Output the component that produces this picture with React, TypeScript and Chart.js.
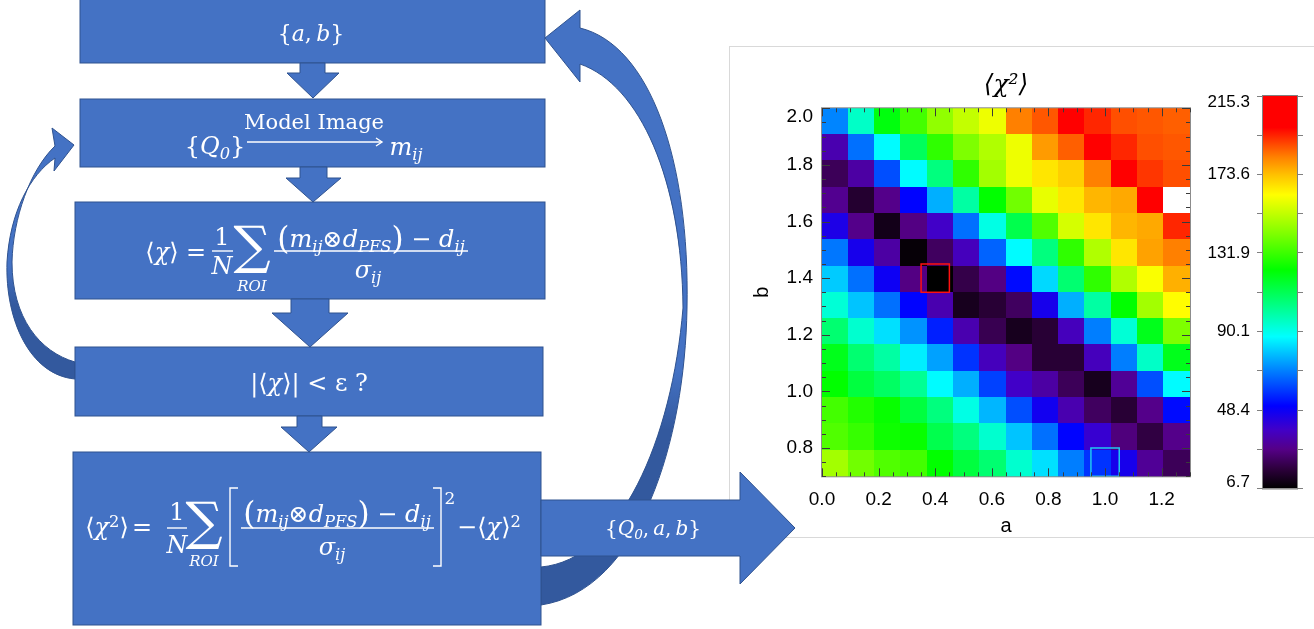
import React, { useEffect, useRef } from 'react';
import { Chart, registerables } from 'chart.js';

Chart.register(...registerables);

// ---------------- DATA ----------------
const A_PARAMS = [0.0, 0.1, 0.2, 0.3, 0.4, 0.5, 0.6, 0.7, 0.8, 0.9, 1.0, 1.1, 1.2, 1.3];
const B_PARAMS = [2.0, 1.9, 1.8, 1.7, 1.6, 1.5, 1.4, 1.3, 1.2, 1.1, 1.0, 0.9, 0.8, 0.7];

const CHI_B20 = [70, 95, 121, 133, 145, 153, 160, 183, 188, 205, 194, 189, 188, 187];
const CHI_B19 = [34, 67, 87, 110, 130, 142, 150, 160, 179, 187, 205, 194, 189, 188];
const CHI_B18 = [21, 32, 62, 87, 105, 130, 148, 160, 167, 171, 183, 205, 192, 189];
const CHI_B17 = [29, 15, 28, 51, 76, 100, 123, 140, 159, 167, 175, 177, 205, 215.3];
const CHI_B16 = [45, 28, 11, 27, 38, 67, 91, 112, 135, 156, 167, 175, 177, 194];
const CHI_B15 = [68, 46, 32, 8, 22, 36, 65, 87, 105, 130, 150, 167, 178, 183];
const CHI_B14 = [80, 67, 48, 27, 6.7, 19, 27, 52, 82, 107, 130, 150, 162, 176];
const CHI_B13 = [93, 79, 67, 51, 34, 12, 16, 22, 46, 76, 100, 123, 148, 163];
const CHI_B12 = [107, 94, 83, 72, 55, 34, 20, 12, 16, 36, 69, 93, 119, 142];
const CHI_B11 = [119, 107, 100, 85, 74, 58, 36, 27, 16, 16, 36, 69, 95, 119];
const CHI_B10 = [123, 114, 109, 102, 87, 76, 60, 38, 32, 21, 12, 30, 62, 87];
const CHI_B09 = [133, 128, 124, 114, 105, 91, 77, 62, 47, 34, 22, 16, 28, 52];
const CHI_B08 = [135, 131, 125, 124, 112, 105, 94, 79, 67, 51, 40, 26, 18, 28];
const CHI_B07 = [148, 140, 135, 133, 123, 114, 107, 94, 83, 69, 58, 46, 30, 21];
const CHI_ROWS = [CHI_B20, CHI_B19, CHI_B18, CHI_B17, CHI_B16, CHI_B15, CHI_B14,
  CHI_B13, CHI_B12, CHI_B11, CHI_B10, CHI_B09, CHI_B08, CHI_B07];

const A_RANGE = [0.0, 1.3];
const B_RANGE = [0.7, 2.0];
const X_TICKS = [0.0, 0.2, 0.4, 0.6, 0.8, 1.0, 1.2];
const Y_TICKS = [0.8, 1.0, 1.2, 1.4, 1.6, 1.8, 2.0];
const CB_MIN = 6.7;
const CB_MAX = 215.3;
const CB_TICKS = [6.7, 48.4, 90.1, 131.9, 173.6, 215.3];
const CB_MINOR = [27.6, 69.3, 111.0, 152.8, 194.5];
const MIN_MARK = { a: 0.4, b: 1.4 };
const TRUE_MARK = { a: 1.0, b: 0.75 };
const MARK_SIZE = 0.1;

// colour table (rainbow + black/white)
const CMAP: number[][] = [
  [0.0, 0, 0, 0],
  [0.05, 45, 0, 60],
  [0.10, 85, 0, 135],
  [0.15, 65, 0, 200],
  [0.21, 0, 0, 255],
  [0.30, 0, 128, 255],
  [0.387, 0, 255, 255],
  [0.47, 0, 255, 128],
  [0.557, 0, 255, 0],
  [0.65, 128, 255, 0],
  [0.748, 255, 255, 0],
  [0.80, 255, 192, 0],
  [0.845, 255, 128, 0],
  [0.92, 255, 0, 0],
  [1.0, 255, 0, 0],
];

function colorFor(v: number): string {
  if (v >= CB_MAX - 1e-6) return 'rgb(255,255,255)';
  const t = Math.max(0, Math.min(1, (v - CB_MIN) / (CB_MAX - CB_MIN)));
  for (let i = 1; i < CMAP.length; i++) {
    if (t <= CMAP[i][0]) {
      const a = CMAP[i - 1], b = CMAP[i];
      const f = (t - a[0]) / (b[0] - a[0]);
      const c = [1, 2, 3].map(k => Math.round(a[k] + (b[k] - a[k]) * f));
      return `rgb(${c[0]},${c[1]},${c[2]})`;
    }
  }
  return 'rgb(255,0,0)';
}

const SANS = '"Liberation Sans", Arial, sans-serif';
const MATH = '"DejaVu Serif", "DejaVu Sans", serif';

// ---------------- heatmap plugin ----------------
const heatPlugin = {
  id: 'heatCells',
  beforeDatasetsDraw(chart: any) {
    const { ctx, scales } = chart;
    const xs = scales.x, ys = scales.y;
    const n = A_PARAMS.length, m = B_PARAMS.length;
    const w = (A_RANGE[1] - A_RANGE[0]) / n;
    const h = (B_RANGE[1] - B_RANGE[0]) / m;
    ctx.save();
    CHI_ROWS.forEach((row, r) => {
      row.forEach((v, c) => {
        const xl = xs.getPixelForValue(A_RANGE[0] + c * w);
        const xr = xs.getPixelForValue(A_RANGE[0] + (c + 1) * w);
        const yt = ys.getPixelForValue(B_RANGE[1] - r * h);
        const yb = ys.getPixelForValue(B_RANGE[1] - (r + 1) * h);
        ctx.fillStyle = colorFor(v);
        const x0 = Math.floor(xl), y0 = Math.floor(yt);
        ctx.fillRect(x0, y0, Math.ceil(xr) - x0, Math.ceil(yb) - y0);
      });
    });
    ctx.restore();
  },
  afterDatasetsDraw(chart: any) {
    const { ctx, scales, chartArea } = chart;
    const xs = scales.x, ys = scales.y;
    ctx.save();
    const box = (p: any, color: string) => {
      const x0 = xs.getPixelForValue(p.a - MARK_SIZE / 2);
      const x1 = xs.getPixelForValue(p.a + MARK_SIZE / 2);
      const y0 = ys.getPixelForValue(Math.min(B_RANGE[1], p.b + MARK_SIZE / 2));
      const y1 = ys.getPixelForValue(Math.max(B_RANGE[0], p.b - MARK_SIZE / 2));
      ctx.strokeStyle = color;
      ctx.lineWidth = 1.5;
      ctx.strokeRect(x0, y0, x1 - x0, y1 - y0);
    };
    box(MIN_MARK, '#ff1010');
    box(TRUE_MARK, '#20c8f0');
    ctx.strokeStyle = '#8c8c8c';
    ctx.lineWidth = 1;
    ctx.strokeRect(chartArea.left - 0.5, chartArea.top - 0.5, chartArea.right - chartArea.left + 1, chartArea.bottom - chartArea.top + 1);
    ctx.strokeStyle = '#3a3a3a';
    ctx.beginPath();
    for (let k = 0; k <= 26; k++) {
      const v = A_RANGE[0] + k * 0.05;
      const px = Math.round(xs.getPixelForValue(v)) + 0.5;
      const len = k % 4 === 0 ? 8 : 4;
      ctx.moveTo(px, chartArea.bottom); ctx.lineTo(px, chartArea.bottom - len);
      ctx.moveTo(px, chartArea.top); ctx.lineTo(px, chartArea.top + len);
    }
    for (let k = 0; k <= 26; k++) {
      const v = B_RANGE[0] + k * 0.05;
      const py = Math.round(ys.getPixelForValue(v)) + 0.5;
      const len = (k - 2) % 4 === 0 ? 8 : 4;
      ctx.moveTo(chartArea.left, py); ctx.lineTo(chartArea.left + len, py);
      ctx.moveTo(chartArea.right, py); ctx.lineTo(chartArea.right - len, py);
    }
    ctx.stroke();
    ctx.restore();
  },
};

const cbFrame = {
  id: 'cbFrame',
  afterDraw(chart: any) {
    const { ctx, chartArea } = chart;
    ctx.save();
    ctx.strokeStyle = '#808080';
    ctx.lineWidth = 1;
    ctx.strokeRect(chartArea.left - 0.5, chartArea.top - 0.5, chartArea.right - chartArea.left + 1, chartArea.bottom - chartArea.top + 1);
    ctx.restore();
  },
};

function HeatChart() {
  const ref = useRef<HTMLCanvasElement>(null);
  useEffect(() => {
    const cells: any[] = [];
    CHI_ROWS.forEach((row, r) => row.forEach((v, c) => cells.push({ x: A_PARAMS[c], y: B_PARAMS[r], v })));
    const chart = new Chart(ref.current as HTMLCanvasElement, {
      type: 'scatter',
      data: { datasets: [{ data: cells, pointRadius: 0, pointHoverRadius: 0 }] },
      plugins: [heatPlugin],
      options: {
        responsive: false,
        animation: false,
        events: [],
        layout: { padding: { left: 20, top: 10, right: 124, bottom: 0 } },
        plugins: {
          legend: { display: false },
          tooltip: { enabled: false },
          title: {
            display: true,
            text: '⟨χ²⟩',
            fullSize: false,
            color: '#000',
            font: { family: MATH, size: 25, style: 'italic', weight: 'normal' },
            padding: { top: 14, bottom: 8.3 },
          },
        },
        scales: {
          x: {
            type: 'linear', min: A_RANGE[0], max: A_RANGE[1],
            afterBuildTicks: (s: any) => { s.ticks = X_TICKS.map(v => ({ value: v })); },
            afterFit: (s: any) => { s.height = 61.7; },
            ticks: { callback: (v: any) => Number(v).toFixed(1), color: '#000', font: { family: SANS, size: 19 }, padding: 12.3, maxRotation: 0, autoSkip: false },
            grid: { display: false, drawTicks: false, tickLength: 0 },
            border: { display: false },
            title: { display: true, text: 'a', color: '#000', font: { family: SANS, size: 20 }, padding: { top: 0, bottom: 0 } },
          },
          y: {
            type: 'linear', min: B_RANGE[0], max: B_RANGE[1],
            afterBuildTicks: (s: any) => { s.ticks = Y_TICKS.map(v => ({ value: v })); },
            afterFit: (s: any) => { s.width = 73; },
            ticks: {
              callback: (v: any) => (Math.abs(v - B_RANGE[1]) < 1e-6 ? ['', Number(v).toFixed(1)] : Number(v).toFixed(1)),
              color: '#000',
              font: (ctx: any) => ({ family: SANS, size: 19, lineHeight: ctx.index === Y_TICKS.length - 1 ? 0.88 : 1.2 }),
              padding: 9, autoSkip: false,
            },
            grid: { display: false, drawTicks: false, tickLength: 0 },
            border: { display: false },
            title: { display: true, text: 'b', color: '#000', font: { family: SANS, size: 20 }, padding: { top: 1, bottom: 0 } },
          },
        },
      } as any,
    });
    return () => chart.destroy();
  }, []);
  return <canvas ref={ref} width={585} height={492} style={{ position: 'absolute', left: 729, top: 46, width: 585, height: 492 }} />;
}

function ColorBar() {
  const ref = useRef<HTMLCanvasElement>(null);
  useEffect(() => {
    const all = [...CB_TICKS, ...CB_MINOR].sort((p, q) => p - q);
    const label = (v: number) => {
      const i = CB_TICKS.findIndex(t => Math.abs(t - v) < 1e-6);
      if (i < 0) return '';
      const s = v.toFixed(1);
      if (i === CB_TICKS.length - 1) return ['', s];
      if (i === 0) return [s, ''];
      return s;
    };
    const chart = new Chart(ref.current as HTMLCanvasElement, {
      type: 'bar',
      data: {
        labels: ['χ²'],
        datasets: [{
          data: [[CB_MIN, CB_MAX]],
          barPercentage: 1, categoryPercentage: 1, borderWidth: 0,
          backgroundColor: (ctx: any) => {
            const ch = ctx.chart;
            if (!ch.chartArea) return '#000';
            const ys = ch.scales.y;
            const g = ch.ctx.createLinearGradient(0, ys.getPixelForValue(CB_MIN), 0, ys.getPixelForValue(CB_MAX));
            CMAP.forEach(s => g.addColorStop(s[0], `rgb(${s[1]},${s[2]},${s[3]})`));
            return g;
          },
        }],
      },
      plugins: [cbFrame],
      options: {
        responsive: false,
        animation: false,
        events: [],
        layout: { padding: { left: 0, top: 50, right: 0, bottom: 49.5 } },
        plugins: { legend: { display: false }, tooltip: { enabled: false }, title: { display: false } },
        scales: {
          x: { display: false },
          y: {
            position: 'left', min: CB_MIN, max: CB_MAX,
            afterBuildTicks: (s: any) => { s.ticks = all.map(v => ({ value: v })); },
            afterFit: (s: any) => { s.width = 73; },
            ticks: {
              callback: (v: any) => label(Number(v)),
              color: '#000',
              font: (ctx: any) => ({ family: SANS, size: 17, lineHeight: (ctx.index === 0 || ctx.index === all.length - 1) ? 0.78 : 1.2 }),
              padding: 7, autoSkip: false,
            },
            grid: { drawOnChartArea: false, drawTicks: true, tickLength: 6, color: '#808080' },
            border: { display: false },
          },
          y2: {
            position: 'right', min: CB_MIN, max: CB_MAX,
            afterBuildTicks: (s: any) => { s.ticks = all.map(v => ({ value: v })); },
            afterFit: (s: any) => { s.width = 17; },
            ticks: { callback: () => '', autoSkip: false },
            grid: { drawOnChartArea: false, drawTicks: true, tickLength: 6, color: '#808080' },
            border: { display: false },
          },
        },
      } as any,
    });
    return () => chart.destroy();
  }, []);
  return <canvas ref={ref} width={124} height={492} style={{ position: 'absolute', left: 1190, top: 46, width: 124, height: 492 }} />;
}

// ---------------- flowchart text helpers ----------------
function Txt({ x, y, size = 24, children, italic = false }: any) {
  return (
    <div style={{
      position: 'absolute', left: x, top: y, transform: 'translate(-50%,-50%)',
      fontFamily: MATH, fontSize: size, lineHeight: 1, color: '#fff', whiteSpace: 'nowrap',
      fontStyle: italic ? 'italic' : 'normal',
    }}>{children}</div>
  );
}
const I = ({ children }: any) => <span style={{ fontStyle: 'italic' }}>{children}</span>;
const Sub = ({ children }: any) => <span style={{ fontSize: '0.68em', fontStyle: 'italic', position: 'relative', top: '0.32em' }}>{children}</span>;
const Sup = ({ children }: any) => <span style={{ fontSize: '0.68em', position: 'relative', top: '-0.5em' }}>{children}</span>;
const Big = ({ children }: any) => <span style={{ fontSize: '1.3em', position: 'relative', top: '0.05em' }}>{children}</span>;

const BLUE = '#4472C4';
const EDGE = '#2F528F';

function Flow() {
  const down = (sx0: number, sx1: number, y0: number, y1: number, hx0: number, hx1: number, tx: number, ty: number) =>
    `${sx0},${y0} ${sx1},${y0} ${sx1},${y1} ${hx1},${y1} ${tx},${ty} ${hx0},${y1} ${sx0},${y1}`;
  return (
    <svg width={1314} height={629} style={{ position: 'absolute', left: 0, top: 0 }}>
      <defs>
        <linearGradient id="gR" gradientUnits="userSpaceOnUse" x1="0" y1="370" x2="0" y2="430">
          <stop offset="0" stopColor={BLUE} />
          <stop offset="1" stopColor="#33599e" />
        </linearGradient>
        <linearGradient id="gL" gradientUnits="userSpaceOnUse" x1="0" y1="265" x2="0" y2="305">
          <stop offset="0" stopColor={BLUE} />
          <stop offset="1" stopColor="#33599e" />
        </linearGradient>
      </defs>
      {/* curved arrows */}
      <path d="M 580 28 C 650 45, 690 160, 687 308 C 685 440, 640 590, 541 605 L 541 567 C 620 560, 672 440, 683 308 C 682 180, 640 85, 580 64 L 580 82 L 545 38 L 580 10 Z"
        fill="url(#gR)" stroke={EDGE} strokeWidth={1} />
      <path d="M 55 158 C 30 175, 10 212, 7 262 C 5 320, 30 375, 75 379 L 75 362 C 40 352, 12 318, 12 262 C 13 218, 30 170, 55 146 L 52 128 L 74 145 L 54 171 Z"
        fill="url(#gL)" stroke={EDGE} strokeWidth={1} />
      {/* boxes */}
      <rect x={80} y={-2} width={465} height={65} fill={BLUE} stroke={EDGE} />
      <rect x={80} y={99} width={465} height={68} fill={BLUE} stroke={EDGE} />
      <rect x={75} y={202} width={470} height={97} fill={BLUE} stroke={EDGE} />
      <rect x={75} y={347} width={468} height={69} fill={BLUE} stroke={EDGE} />
      <rect x={73} y={452} width={468} height={173} fill={BLUE} stroke={EDGE} />
      {/* down arrows */}
      <polygon points={down(300, 325, 63, 73, 287, 339, 313, 98)} fill={BLUE} stroke={EDGE} />
      <polygon points={down(300, 327, 167, 178, 286, 341, 313, 202)} fill={BLUE} stroke={EDGE} />
      <polygon points={down(291, 329, 299, 313, 272, 348, 310, 347)} fill={BLUE} stroke={EDGE} />
      <polygon points={down(297, 322, 416, 427, 281, 337, 309, 452)} fill={BLUE} stroke={EDGE} />
      {/* right arrow */}
      <polygon points="541,500 740,500 740,472 795,528 740,584 740,556 541,556" fill={BLUE} stroke={EDGE} />
      {/* math strokes */}
      <g stroke="#fff" fill="none" strokeWidth={1.4}>
        <line x1={247} y1={142} x2={382} y2={142} />
        <polyline points="376,138 382,142 376,146" />
        <line x1={212} y1={251} x2={233} y2={251} />
        <line x1={274} y1={251} x2={468} y2={251} />
        <line x1={167} y1={528} x2={187} y2={528} />
        <line x1={241} y1={528} x2={434} y2={528} />
        <polyline points="238,488 230,488 230,566 238,566" />
        <polyline points="433,488 441,488 441,566 433,566" />
      </g>
    </svg>
  );
}

function FlowText() {
  return (
    <>
      <Txt x={311} y={34} size={22}>{'{'}<I>a</I>,{'\u2009'}<I>b</I>{'}'}</Txt>
      <Txt x={314} y={122} size={21}>Model Image</Txt>
      <Txt x={215} y={146}>{'{'}<I>Q</I><Sub>0</Sub>{'}'}</Txt>
      <Txt x={406} y={147}><I>m</I><Sub>ij</Sub></Txt>

      <Txt x={162} y={252}>⟨<I>χ</I>⟩</Txt>
      <Txt x={196} y={252}>=</Txt>
      <Txt x={222} y={237}>1</Txt>
      <Txt x={222} y={266}><I>N</I></Txt>
      <Txt x={252} y={245} size={52}>∑</Txt>
      <Txt x={252} y={286} size={15} italic>ROI</Txt>
      <Txt x={371} y={237}><Big>(</Big><I>m</I><Sub>ij</Sub>⊗<I>d</I><Sub>PFS</Sub><Big>)</Big> − <I>d</I><Sub>ij</Sub></Txt>
      <Txt x={368} y={270}><I>σ</I><Sub>ij</Sub></Txt>

      <Txt x={309} y={383}>|⟨<I>χ</I>⟩| &lt; ε ?</Txt>

      <Txt x={107} y={527}>⟨<I>χ</I><Sup>2</Sup>⟩</Txt>
      <Txt x={142} y={527}>=</Txt>
      <Txt x={177} y={512}>1</Txt>
      <Txt x={177} y={545}><I>N</I></Txt>
      <Txt x={204} y={521} size={52}>∑</Txt>
      <Txt x={204} y={561} size={15} italic>ROI</Txt>
      <Txt x={337} y={512}><Big>(</Big><I>m</I><Sub>ij</Sub>⊗<I>d</I><Sub>PFS</Sub><Big>)</Big> − <I>d</I><Sub>ij</Sub></Txt>
      <Txt x={332} y={547}><I>σ</I><Sub>ij</Sub></Txt>
      <Txt x={450} y={498} size={17}>2</Txt>
      <Txt x={489} y={527}>−⟨<I>χ</I>⟩<Sup>2</Sup></Txt>

      <Txt x={653} y={528} size={20}>{'{'}<I>Q</I><Sub>0</Sub>,{'\u2009'}<I>a</I>,{'\u2009'}<I>b</I>{'}'}</Txt>
    </>
  );
}

export default function App() {
  return (
    <div style={{ position: 'fixed', left: 0, top: 0, width: 1314, height: 629, overflow: 'hidden', background: '#fff' }}>
      <div style={{ position: 'absolute', left: 729, top: 46, width: 585, height: 492, boxSizing: 'border-box', borderTop: '1px solid #d9d9d9', borderLeft: '1px solid #d9d9d9', borderBottom: '1px solid #d9d9d9' }} />
      <HeatChart />
      <ColorBar />
      <Flow />
      <FlowText />
    </div>
  );
}
